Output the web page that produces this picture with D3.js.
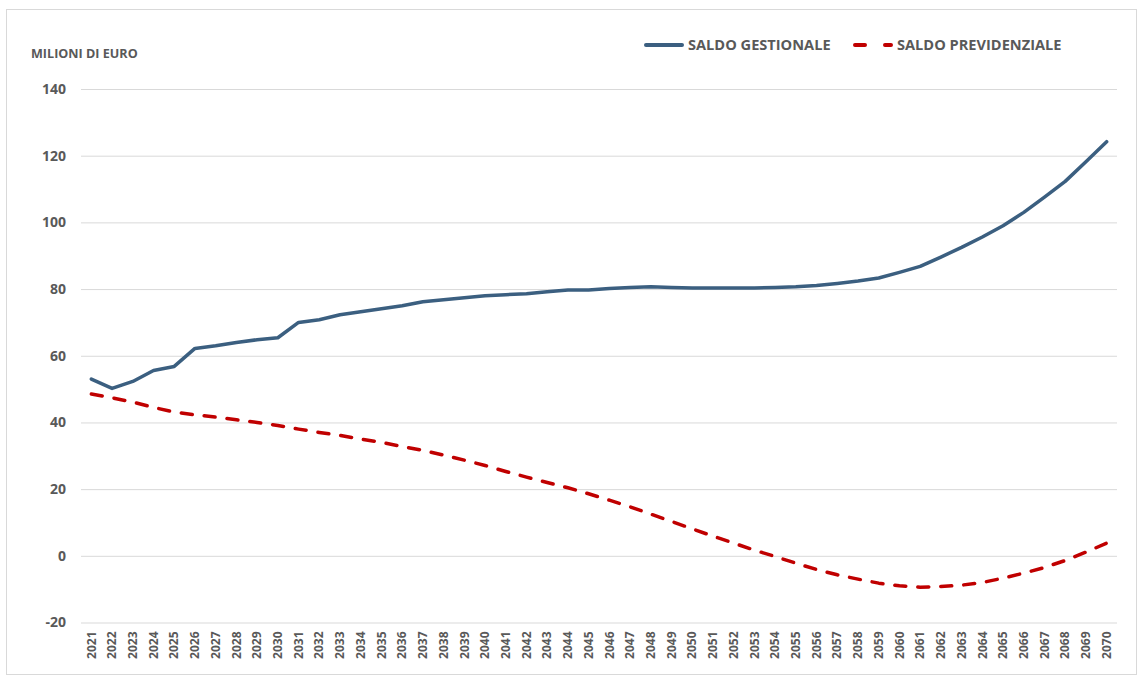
<!DOCTYPE html>
<html>
<head>
<meta charset="utf-8">
<script src="https://cdn.jsdelivr.net/npm/d3@7"></script>
<style>
  body { margin: 0; background: #fff; }
  svg text { font-family: "Open Sans", "Noto Sans", sans-serif; font-weight: bold; fill: #595959; }
  .grid line { stroke: #d9d9d9; stroke-width: 1; }
</style>
</head>
<body>
<div id="app"></div>
<script>
// data ---------------------------------------------------------
var years = d3.range(2021, 2071).map(String);

var saldoGestionale = [
  53.0, 50.2, 52.3, 55.6, 56.8, 62.2, 63.0, 64.0, 64.8, 65.4,
  70.0, 70.8, 72.3, 73.2, 74.1, 75.0, 76.2, 76.8, 77.4, 78.0,
  78.3, 78.6, 79.2, 79.7, 79.7, 80.2, 80.5, 80.7, 80.5, 80.3,
  80.3, 80.3, 80.3, 80.5, 80.7, 81.1, 81.7, 82.4, 83.3, 85.0,
  86.8, 89.6, 92.5, 95.6, 99.0, 103.0, 107.6, 112.3, 118.2, 124.2
];

var saldoPrevidenziale = [
  48.5, 47.4, 46.1, 44.5, 43.1, 42.3, 41.6, 40.8, 40.0, 39.1,
  38.0, 37.0, 36.1, 35.0, 34.0, 32.8, 31.6, 30.2, 28.7, 27.1,
  25.3, 23.6, 22.0, 20.4, 18.6, 16.7, 14.7, 12.5, 10.3, 8.1,
  5.9, 3.8, 1.7, -0.2, -2.2, -4.1, -5.7, -7.0, -8.2, -9.0,
  -9.4, -9.2, -8.8, -8.0, -6.7, -5.2, -3.5, -1.4, 1.1, 3.8
];

var yTicks = [-20, 0, 20, 40, 60, 80, 100, 120, 140];

var series = [
  { name: "SALDO GESTIONALE", values: saldoGestionale, color: "#3b5f80", dash: null },
  { name: "SALDO PREVIDENZIALE", values: saldoPrevidenziale, color: "#c00000", dash: "11,12" }
];

// canvas setup ---------------------------------------------------
var W = 1139, H = 677;
var margin = { top: 89, right: 22, bottom: 54, left: 81 };
var width = W - margin.left - margin.right;
var height = H - margin.top - margin.bottom - 0.5;

var svg = d3.select("#app").append("svg")
  .attr("width", W)
  .attr("height", H);

// outer frame
svg.append("rect")
  .attr("x", 6.5).attr("y", 9.5)
  .attr("width", 1130).attr("height", 665)
  .attr("fill", "none")
  .attr("stroke", "#d9d9d9");

var g = svg.append("g")
  .attr("transform", "translate(" + margin.left + "," + margin.top + ")");

var x = d3.scaleBand().domain(years).range([0, width]);
var y = d3.scaleLinear().domain([-20, 140]).range([height, 0]);

// gridlines + y labels (plain hyphen for negatives)
var grid = g.append("g").attr("class", "grid")
  .call(d3.axisLeft(y).tickValues(yTicks).tickSize(-width).tickPadding(15)
    .tickFormat(function(d) { return String(d); }));
grid.select(".domain").remove();
grid.selectAll("text")
  .style("font-size", "14px")
  .attr("fill", "#595959");

// x labels (rotated)
var xa = g.append("g")
  .attr("transform", "translate(0," + (height + 9) + ")")
  .call(d3.axisBottom(x).tickSize(0).tickPadding(0));
xa.select(".domain").remove();
xa.selectAll("text")
  .style("font-size", "12px")
  .attr("fill", "#595959")
  .attr("text-anchor", "end")
  .attr("dy", "0.35em")
  .attr("transform", "rotate(-90)");

// lines
var line = d3.line()
  .x(function(d, i) { return x(years[i]) + x.bandwidth() / 2; })
  .y(function(d) { return y(d); });

series.forEach(function(s) {
  g.append("path")
    .datum(s.values)
    .attr("fill", "none")
    .attr("stroke", s.color)
    .attr("stroke-width", 3.5)
    .attr("stroke-linecap", "round")
    .attr("stroke-linejoin", "round")
    .attr("stroke-dasharray", s.dash)
    .attr("d", line);
});

// unit title
svg.append("text")
  .attr("x", 31).attr("y", 58)
  .style("font-size", "12.6px")
  .text("MILIONI DI EURO");

// legend
var legendPos = [644, 853];
series.forEach(function(s, i) {
  var lg = svg.append("g").attr("transform", "translate(" + legendPos[i] + ",45)");
  lg.append("line")
    .attr("x1", 2).attr("x2", 38)
    .attr("stroke", s.color)
    .attr("stroke-width", 4)
    .attr("stroke-linecap", "round")
    .attr("stroke-dasharray", s.dash ? "10,20" : null);
  lg.append("text")
    .attr("x", 44).attr("dy", "0.35em")
    .style("font-size", "14.6px")
    .text(s.name);
});
</script>
</body>
</html>
